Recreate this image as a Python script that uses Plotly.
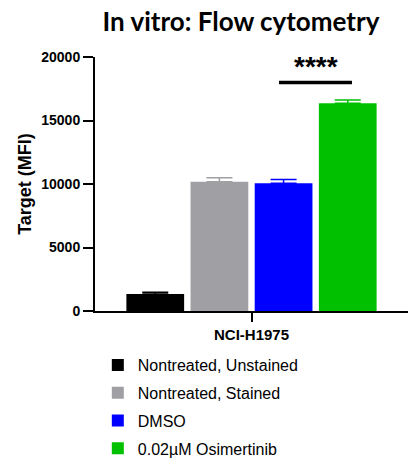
import plotly.graph_objects as go

categories = ["NCI-H1975"]
series_names = ["Nontreated, Unstained", "Nontreated, Stained", "DMSO", "0.02µM Osimertinib"]
means = [1340, 10180, 10060, 16350]
errors = [130, 315, 285, 260]
colors = ["#000000", "#A0A0A4", "#0000FF", "#00C000"]
y_ticks = [0, 5000, 10000, 15000, 20000]
y_ticklabels = ["0", "5000", "10000", "15000", "20000"]
sig_y = 18000
sig_label = "****"

FONT = "Arial, Liberation Sans, sans-serif"

fig = go.Figure()
for i, (name, m, e, c) in enumerate(zip(series_names, means, errors, colors)):
    fig.add_trace(go.Bar(
        x=categories, y=[m], name=name, marker=dict(color=c, line=dict(width=0)),
        legendgroup=f"g{i}",
        error_y=dict(type="data", array=[e], arrayminus=[0], symmetric=False,
                     color=c, thickness=1.5, width=13),
    ))

fig.add_shape(type="line", xref="x", yref="y", x0=0.088, x1=0.321, y0=sig_y, y1=sig_y,
              line=dict(color="black", width=3.5))
fig.add_annotation(x=0.205, y=sig_y, xref="x", yref="y", text=f"<b>{sig_label}</b>",
                   showarrow=False, yanchor="bottom", yshift=-2,
                   font=dict(family=FONT, size=28, color="black"))

fig.update_layout(
    width=408, height=459,
    margin=dict(l=95, r=0, t=57, b=148, autoexpand=False),
    paper_bgcolor="white", plot_bgcolor="white",
    barmode="group", bargap=0.18, bargroupgap=0.1,
    title=dict(text="<b>In vitro: Flow cytometry</b>", x=241/408, xanchor="center",
               y=1 - 22/459, yanchor="middle", yref="container",
               font=dict(family="Lato, sans-serif", size=26, color="black")),
    font=dict(family=FONT, color="black"),
    showlegend=True,
    legend=dict(x=0.009, xanchor="left", y=1 - 348/459, yref="container", yanchor="top",
                orientation="v",
                font=dict(family=FONT, size=16, color="black"),
                tracegroupgap=4, bgcolor="rgba(0,0,0,0)"),
    xaxis=dict(type="category", range=[-0.5, 0.5], showline=True, linecolor="black", linewidth=2,
               ticks="outside", ticklen=9, tickwidth=2, tickcolor="black",
               tickvals=categories, ticktext=[f"<b>{c}</b>" for c in categories],
               tickfont=dict(family=FONT, size=15, color="black"),
               showgrid=False, zeroline=False, automargin=False),
    yaxis=dict(range=[0, 20000], tickvals=y_ticks, ticktext=[f"<b>{t}</b>" for t in y_ticklabels],
               showline=True, linecolor="black", linewidth=2,
               ticks="outside", ticklen=10, tickwidth=2, tickcolor="black",
               tickfont=dict(family=FONT, size=14, color="black"),
               showgrid=False, zeroline=False, automargin=False,
               title=dict(text="<b>Target (MFI)</b>", font=dict(family=FONT, size=18, color="black"),
                          standoff=5)),
)

fig.write_html("out.html", config={"displayModeBar": False},
               post_script="document.body.style.margin='0px';")
